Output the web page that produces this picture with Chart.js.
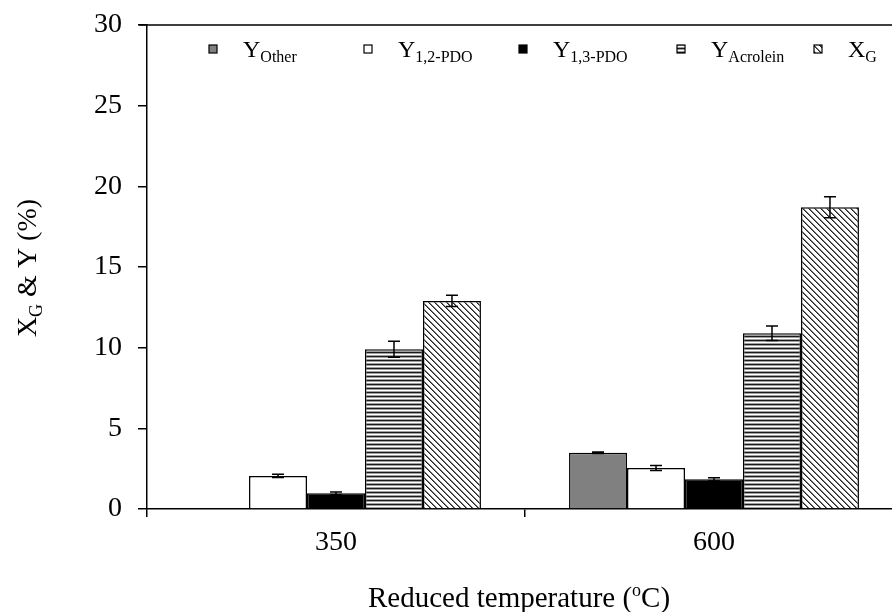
<!DOCTYPE html>
<html>
<head>
<meta charset="utf-8">
<title>Glycerol conversion and yields</title>
<script src="https://cdn.jsdelivr.net/npm/chart.js"></script>
<style>
  html, body { margin: 0; padding: 0; background: #fff; overflow: hidden; }
</style>
</head>
<body>
<canvas id="chart" width="920" height="612"></canvas>
<script>
// reduced temperature categories
const categories = ['350', '600'];

// yields / conversion (%) and their error bars
const yOther = [0, 3.49];
const yOtherErr = [0, 0.05];
const y12pdo = [2.05, 2.54];
const y12pdoErr = [0.1, 0.15];
const y13pdo = [0.97, 1.84];
const y13pdoErr = [0.08, 0.1];
const yAcrolein = [9.9, 10.9];
const yAcroleinErr = [0.5, 0.45];
const xGly = [12.9, 18.7];
const xGlyErr = [0.35, 0.65];

const yTicks = [0, 5, 10, 15, 20, 25, 30];

// label parts: main letter + subscript
const seriesMain = ['Y', 'Y', 'Y', 'Y', 'X'];
const seriesSub = ['Other', '1,2-PDO', '1,3-PDO', 'Acrolein', 'G'];

const FONT = '"Liberation Serif", "Times New Roman", serif';

function stripePattern() {
  const c = document.createElement('canvas');
  c.width = 4; c.height = 4;
  const g = c.getContext('2d');
  const rows = ['#1a1a1a', '#a0a0a0', '#ffffff', '#a0a0a0'];
  rows.forEach((col, i) => { g.fillStyle = col; g.fillRect(0, i, 4, 1); });
  return g.createPattern(c, 'repeat');
}

function hatchPattern() {
  const c = document.createElement('canvas');
  c.width = 6; c.height = 6;
  const g = c.getContext('2d');
  g.fillStyle = '#fff';
  g.fillRect(0, 0, 6, 6);
  for (let y = 0; y < 6; y++) {
    for (let x = 0; x < 6; x++) {
      const d = ((x - y) % 6 + 6) % 6;
      if (d === 0) { g.fillStyle = '#222'; g.fillRect(x, y, 1, 1); }
      else if (d === 1) { g.fillStyle = '#777'; g.fillRect(x, y, 1, 1); }
    }
  }
  return g.createPattern(c, 'repeat');
}

const fills = ['#808080', '#ffffff', '#000000', stripePattern(), hatchPattern()];
const values = [yOther, y12pdo, y13pdo, yAcrolein, xGly];
const errors = [yOtherErr, y12pdoErr, y13pdoErr, yAcroleinErr, xGlyErr];

const datasets = values.map((v, i) => ({
  label: seriesMain[i] + seriesSub[i],
  data: v,
  err: errors[i],
  backgroundColor: fills[i],
  borderColor: '#000',
  borderWidth: 1.5,
  barPercentage: 1.0,
  categoryPercentage: 0.767
}));

// draws text with a raised or lowered small part
function richText(ctx, parts, x, y) {
  let cx = x;
  parts.forEach(p => {
    ctx.font = p.size + 'px ' + FONT;
    ctx.fillText(p.t, cx, y + (p.dy || 0));
    cx += ctx.measureText(p.t).width;
  });
}
function richWidth(ctx, parts) {
  let w = 0;
  parts.forEach(p => { ctx.font = p.size + 'px ' + FONT; w += ctx.measureText(p.t).width; });
  return w;
}

// error bars, frame, axis titles and legend
const extras = {
  id: 'extras',
  afterDatasetsDraw(chart) {
    const ctx = chart.ctx;
    const ys = chart.scales.y;
    ctx.save();
    ctx.strokeStyle = '#000';
    ctx.lineWidth = 1.5;
    chart.data.datasets.forEach((ds, di) => {
      const meta = chart.getDatasetMeta(di);
      meta.data.forEach((bar, i) => {
        const e = ds.err[i];
        if (!e || !ds.data[i]) return;
        const x = bar.x;
        const top = ys.getPixelForValue(ds.data[i] + e);
        const bot = ys.getPixelForValue(ds.data[i] - e);
        ctx.beginPath();
        ctx.moveTo(x, top); ctx.lineTo(x, bot);
        ctx.moveTo(x - 6, top); ctx.lineTo(x + 6, top);
        ctx.moveTo(x - 6, bot); ctx.lineTo(x + 6, bot);
        ctx.stroke();
      });
    });
    ctx.restore();
  },
  afterDraw(chart) {
    const ctx = chart.ctx;
    const a = chart.chartArea;
    ctx.save();
    // top frame line
    ctx.strokeStyle = '#000';
    ctx.lineWidth = 1.5;
    ctx.beginPath();
    ctx.moveTo(a.left - 8, a.top);
    ctx.lineTo(chart.width, a.top);
    ctx.moveTo(a.right, a.top);
    ctx.lineTo(a.right, a.bottom);
    ctx.stroke();

    ctx.fillStyle = '#000';
    ctx.textBaseline = 'alphabetic';

    // y axis title: X_G & Y (%)
    const yParts = [{ t: 'X', size: 28 }, { t: 'G', size: 18, dy: 6 }, { t: ' & Y (%)', size: 28 }];
    ctx.save();
    ctx.translate(36, 268);
    ctx.rotate(-Math.PI / 2);
    richText(ctx, yParts, -richWidth(ctx, yParts) / 2, 0);
    ctx.restore();

    // x axis title: Reduced temperature (oC)
    const xParts = [{ t: 'Reduced temperature (', size: 29 }, { t: 'o', size: 18, dy: -11 }, { t: 'C)', size: 29 }];
    richText(ctx, xParts, 368, 607);

    // legend
    const lx = [213, 368, 523, 681, 818];
    const ly = 49;
    chart.data.datasets.forEach((ds, i) => {
      ctx.fillStyle = ds.backgroundColor;
      ctx.fillRect(lx[i] - 4, ly - 4, 8, 8);
      ctx.lineWidth = 1.2;
      ctx.strokeStyle = '#000';
      ctx.strokeRect(lx[i] - 4, ly - 4, 8, 8);
      ctx.fillStyle = '#000';
      richText(ctx, [{ t: seriesMain[i], size: 24 }, { t: seriesSub[i], size: 16, dy: 5 }], lx[i] + 30, ly + 8);
    });
    ctx.restore();
  }
};

new Chart(document.getElementById('chart'), {
  type: 'bar',
  data: { labels: categories, datasets: datasets },
  options: {
    responsive: false,
    animation: false,
    layout: { padding: { top: 25, right: 17, left: 0, bottom: 0 } },
    plugins: { legend: { display: false }, tooltip: { enabled: false } },
    scales: {
      x: {
        afterFit(s) { s.height = 103; s.paddingLeft = 0; s.paddingRight = 0; },
        grid: { drawOnChartArea: false, drawTicks: true, tickLength: 8, color: '#000', lineWidth: 1.5, offset: true },
        border: { display: true, color: '#000', width: 1.5 },
        ticks: { color: '#000', font: { family: FONT, size: 28 }, padding: 9 }
      },
      y: {
        min: 0,
        max: 30,
        afterFit(s) { s.width = 147; s.paddingTop = 0; s.paddingBottom = 0; },
        afterBuildTicks(s) { s.ticks = yTicks.map(v => ({ value: v })); },
        grid: { drawOnChartArea: false, drawTicks: true, tickLength: 9, color: '#000', lineWidth: 1.5 },
        border: { display: true, color: '#000', width: 1.5 },
        ticks: { color: '#000', font: { family: FONT, size: 28 }, padding: 16 }
      }
    }
  },
  plugins: [extras]
});
</script>
</body>
</html>
